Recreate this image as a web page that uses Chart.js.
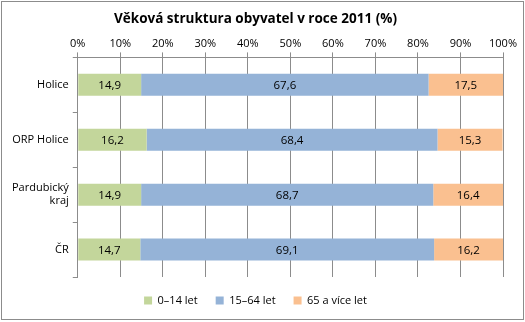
<!DOCTYPE html>
<html>
<head>
<meta charset="utf-8">
<script src="https://cdn.jsdelivr.net/npm/chart.js@4/dist/chart.umd.min.js"></script>
<style>
  body { margin: 0; background: #fff; }
  #ramec { position: absolute; left: 1px; top: 1px; width: 521px; height: 317px; border: 1px solid #8c8c8c; }
  canvas { display: block; }
</style>
</head>
<body>
<div id="ramec"><canvas id="graf" width="521" height="317"></canvas></div>
<script>
const kategorie = ['Holice', 'ORP Holice', ['Pardubický', 'kraj'], 'ČR'];
const deti = [14.9, 16.2, 14.9, 14.7];
const produktivni = [67.6, 68.4, 68.7, 69.1];
const senioři = [17.5, 15.3, 16.4, 16.2];
const osaX = [0, 10, 20, 30, 40, 50, 60, 70, 80, 90, 100];

const pismo = "'Open Sans', 'Noto Sans', sans-serif";

// popisky hodnot uprostred segmentu
const hodnotyPlugin = {
    id: 'hodnoty',
    afterDatasetsDraw(chart) {
        const ctx = chart.ctx;
        ctx.save();
        ctx.font = '11.5px ' + pismo;
        ctx.fillStyle = '#000';
        ctx.textAlign = 'center';
        ctx.textBaseline = 'middle';
        chart.data.datasets.forEach((ds, i) => {
            chart.getDatasetMeta(i).data.forEach((bar, j) => {
                const x = (bar.x + bar.base) / 2;
                ctx.fillText(ds.data[j].toFixed(1).replace('.', ','), x, bar.y + 1);
            });
        });
        ctx.restore();
    }
};

new Chart(document.getElementById('graf'), {
    type: 'bar',
    data: {
        labels: kategorie,
        datasets: [
            { label: '0–14 let', data: deti, backgroundColor: '#C3D69B' },
            { label: '15–64 let', data: produktivni, backgroundColor: '#95B3D7' },
            { label: '65 a více let', data: senioři, backgroundColor: '#FAC090' }
        ]
    },
    options: {
        indexAxis: 'y',
        responsive: false,
        animation: false,
        barPercentage: 0.4,
        categoryPercentage: 1,
        layout: { padding: { left: 6, right: 20, top: 0, bottom: 3 } },
        plugins: {
            title: {
                display: true,
                text: 'Věková struktura obyvatel v roce 2011 (%)',
                color: '#000',
                font: { family: pismo, size: 13.5, weight: 'bold' },
                padding: { top: 9, bottom: 8 }
            },
            legend: {
                position: 'bottom',
                labels: {
                    boxWidth: 8, boxHeight: 8, padding: 18,
                    color: '#000',
                    font: { family: pismo, size: 11 }
                }
            },
            tooltip: { enabled: false }
        },
        scales: {
            x: {
                position: 'top',
                stacked: true,
                min: 0, max: 100,
                afterBuildTicks: osa => { osa.ticks = osaX.map(v => ({ value: v })); },
                ticks: {
                    color: '#000',
                    font: { family: pismo, size: 11 },
                    padding: 2,
                    callback: v => v + '%'
                },
                grid: { color: '#8c8c8c', tickLength: 5 },
                border: { color: '#8c8c8c' }
            },
            y: {
                stacked: true,
                ticks: {
                    color: '#000',
                    font: { family: pismo, size: 11 },
                    padding: 4
                },
                grid: { offset: true, drawOnChartArea: false, color: '#8c8c8c', tickLength: 5 },
                border: { color: '#8c8c8c' }
            }
        }
    },
    plugins: [hodnotyPlugin]
});
</script>
</body>
</html>
